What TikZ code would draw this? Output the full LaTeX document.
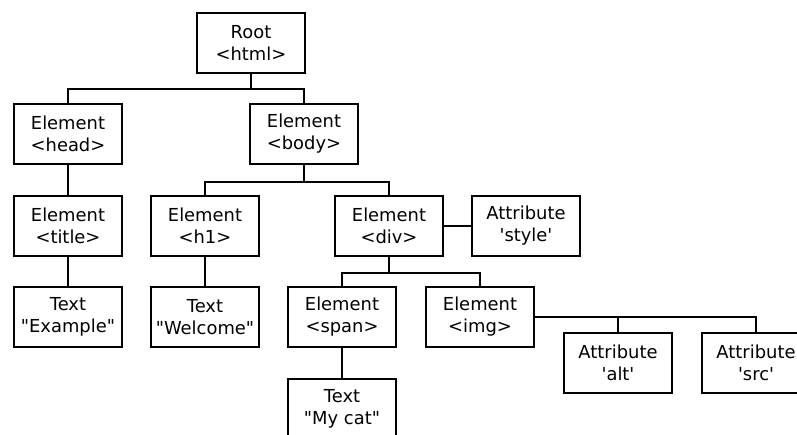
\documentclass[tikz,border=0pt]{standalone}
\usepackage{fontspec}
\setmainfont{DejaVu Sans}[Ligatures=TeXOff]
% straight quote characters
\newcommand{\dq}{\symbol{34}}
\newcommand{\sq}{\symbol{39}}
\begin{document}
\begin{tikzpicture}[x=1pt,y=-1pt,
  domnode/.style={draw,line width=2pt,rectangle,minimum width=108pt,
    minimum height=60pt,inner sep=0pt,align=center,
    font=\fontsize{17.9}{22}\selectfont},
  link/.style={line width=2pt}]
\useasboundingbox (0,0) rectangle (797,434);
\clip (0,0) rectangle (797,434);

% tree nodes
\node[domnode] (root)    at (251,43)  {Root\\<html>};
\node[domnode] (head)    at (68,134)  {Element\\<head>};
\node[domnode] (body)    at (304,134) {Element\\<body>};
\node[domnode] (title)   at (68,226)  {Element\\<title>};
\node[domnode] (h1)      at (205,226) {Element\\<h1>};
\node[domnode] (div)     at (389,226) {Element\\<div>};
\node[domnode] (style)   at (526,226) {Attribute\\\sq style\sq};
\node[domnode] (example) at (68,317)  {Text\\\dq Example\dq};
\node[domnode] (welcome) at (205,317) {Text\\\dq Welcome\dq};
\node[domnode] (span)    at (342,317) {Element\\<span>};
\node[domnode] (img)     at (480,317) {Element\\<img>};
\node[domnode] (alt)     at (618,363) {Attribute\\\sq alt\sq};
\node[domnode] (src)     at (756,363) {Attribute\\\sq src\sq};
\node[domnode] (mycat)   at (342,409) {Text\\\dq My cat\dq};

% connectors
\draw[link] (root.south) -- ++(0,15) -| (head.north);
\draw[link] (root.south) -- ++(0,15) -| (body.north);
\draw[link] (head) -- (title);
\draw[link] (title) -- (example);
\draw[link] (body.south) -- ++(0,17) -| (h1.north);
\draw[link] (body.south) -- ++(0,17) -| (div.north);
\draw[link] (h1) -- (welcome);
\draw[link] (div) -- (style);
\draw[link] (div.south) -- ++(0,16) -| (span.north);
\draw[link] (div.south) -- ++(0,16) -| (img.north);
\draw[link] (span) -- (mycat);
\draw[link] (img.east) -| (alt.north);
\draw[link] (img.east) -| (src.north);
\end{tikzpicture}
\end{document}
